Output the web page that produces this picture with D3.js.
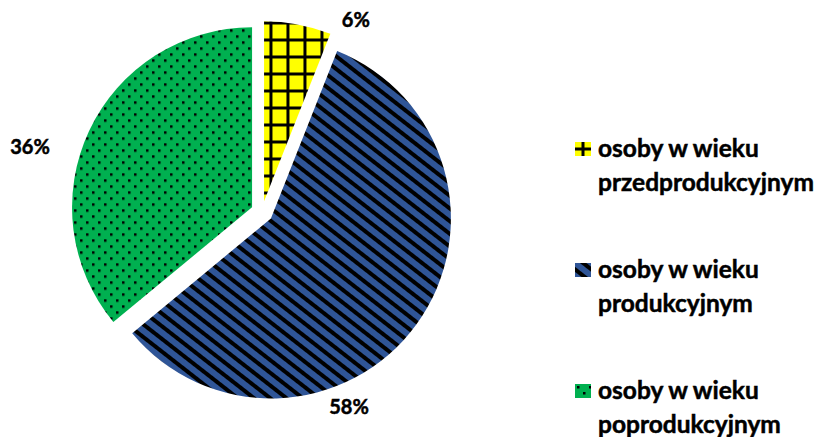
<!DOCTYPE html>
<html>
<head>
<meta charset="utf-8">
<script src="https://cdn.jsdelivr.net/npm/d3@7"></script>
<style>
  html, body { margin: 0; padding: 0; background: #fff; }
  svg { display: block; }
</style>
</head>
<body>
<div id="chart"></div>
<script>
// data
var categories = ['osoby w wieku przedprodukcyjnym', 'osoby w wieku produkcyjnym', 'osoby w wieku poprodukcyjnym'];
var legendLines = [['osoby w wieku', 'przedprodukcyjnym'], ['osoby w wieku', 'produkcyjnym'], ['osoby w wieku', 'poprodukcyjnym']];
var values = [6, 58, 36];
var labels = ['6%', '58%', '36%'];

// layout
var width = 820, height = 437,
    cx = 262, cy = 212,
    radius = 180,
    explode = 11,
    // label placement: angle (deg from top, clockwise) and distance from pie centre
    labelAngle = [26, 156, 285.7],
    labelDist = [214, 214, 241];

var svg = d3.select('#chart').append('svg')
    .attr('width', width)
    .attr('height', height);

var defs = svg.append('defs');

// fill patterns; prefix lets the legend get its own offsets
var makePatterns = function ( prefix, yx, yy, bx, by ) {
    // yellow with black grid
    var p0 = defs.append('pattern')
        .attr('id', prefix + '0')
        .attr('patternUnits', 'userSpaceOnUse')
        .attr('width', 17).attr('height', 17)
        .attr('x', yx).attr('y', yy);
    p0.append('rect').attr('width', 17).attr('height', 17).attr('fill', '#ffff00');
    p0.append('rect').attr('width', 3).attr('height', 17).attr('fill', '#000');
    p0.append('rect').attr('width', 17).attr('height', 3).attr('fill', '#000');

    // blue with black diagonal stripes
    var p1 = defs.append('pattern')
        .attr('id', prefix + '1')
        .attr('patternUnits', 'userSpaceOnUse')
        .attr('width', 10).attr('height', 10)
        .attr('x', bx).attr('y', by)
        .attr('patternTransform', 'rotate(38)');
    p1.append('rect').attr('width', 10).attr('height', 10).attr('fill', '#2f5597');
    p1.append('rect').attr('width', 10).attr('height', 4).attr('fill', '#000');

    // green with black dots
    var p2 = defs.append('pattern')
        .attr('id', prefix + '2')
        .attr('patternUnits', 'userSpaceOnUse')
        .attr('width', 12).attr('height', 12);
    p2.append('rect').attr('width', 12).attr('height', 12).attr('fill', '#00b050');
    p2.append('rect').attr('x', 2).attr('y', 2).attr('width', 2.5).attr('height', 2.5).attr('fill', '#000');
    p2.append('rect').attr('x', 8).attr('y', 8).attr('width', 2.5).attr('height', 2.5).attr('fill', '#000');
};
makePatterns('pat', 5.4, 7.3, 0, 0);
makePatterns('leg', 6.5, 5.5, 0, 3);

var pie = d3.pie().sort(null).value(function (d) { return d; });
var arc = d3.arc().innerRadius(0).outerRadius(radius);
var arcs = pie(values);

var g = svg.append('g').attr('transform', 'translate(' + cx + ',' + cy + ')');

g.selectAll('path.slice')
    .data(arcs)
    .enter()
    .append('path')
    .attr('class', 'slice')
    .attr('d', arc)
    .attr('fill', function (d, i) { return 'url(#pat' + i + ')'; })
    .attr('transform', function (d) {
        var a = (d.startAngle + d.endAngle) / 2;
        return 'translate(' + (Math.sin(a) * explode) + ',' + (-Math.cos(a) * explode) + ')';
    });

// percentage labels
g.selectAll('text.pct')
    .data(arcs)
    .enter()
    .append('text')
    .attr('class', 'pct')
    .attr('x', function (d, i) { return Math.sin(labelAngle[i] * Math.PI / 180) * labelDist[i]; })
    .attr('y', function (d, i) { return -Math.cos(labelAngle[i] * Math.PI / 180) * labelDist[i]; })
    .attr('dy', '0.35em')
    .attr('text-anchor', 'middle')
    .style('font-family', 'Lato, "Open Sans", sans-serif')
    .style('font-weight', 'bold')
    .style('font-size', '20px')
    .attr('fill', '#000')
    .attr('stroke', '#000')
    .attr('stroke-width', 0.5)
    .text(function (d, i) { return labels[i]; });

// legend
var legend = svg.append('g').attr('transform', 'translate(575,142)');
var items = legend.selectAll('g.item')
    .data(categories)
    .enter()
    .append('g')
    .attr('class', 'item')
    .attr('transform', function (d, i) { return 'translate(0,' + (i * 121) + ')'; });

items.append('rect')
    .attr('width', 16)
    .attr('height', 14)
    .attr('fill', function (d, i) { return 'url(#leg' + i + ')'; });

items.append('text')
    .attr('x', 23)
    .attr('y', 15)
    .style('font-family', 'Lato, "Open Sans", sans-serif')
    .style('font-weight', 'bold')
    .style('font-size', '24.5px')
    .attr('fill', '#000')
    .attr('stroke', '#000')
    .attr('stroke-width', 0.5)
    .selectAll('tspan')
    .data(function (d, i) { return legendLines[i]; })
    .enter()
    .append('tspan')
    .attr('x', 23)
    .attr('dy', function (d, j) { return j === 0 ? 0 : 34; })
    .text(function (d) { return d; });
</script>
</body>
</html>
